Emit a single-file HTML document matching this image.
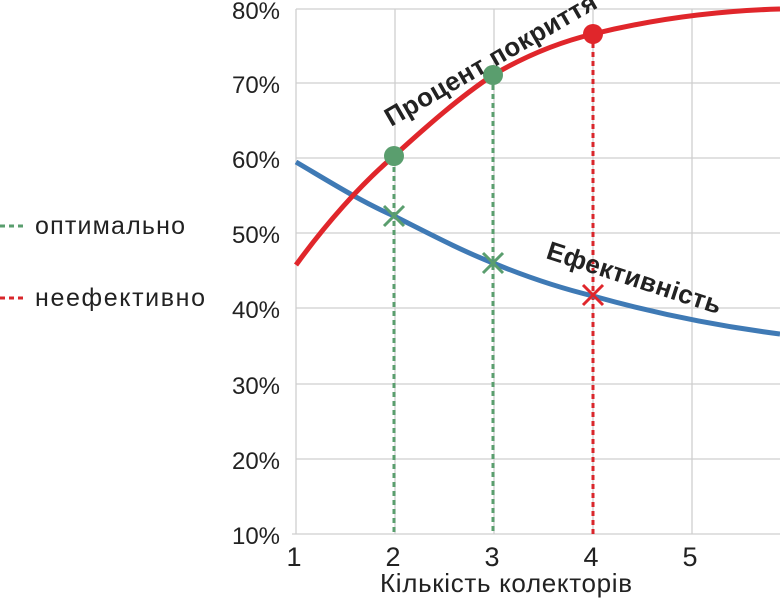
<!DOCTYPE html>
<html><head><meta charset="utf-8"><style>
body{margin:0;background:#fff;}
svg{display:block;font-family:"Liberation Sans",sans-serif;}
</style></head><body>
<svg width="780" height="600" viewBox="0 0 780 600">
<g stroke="#cfcfcf" stroke-width="1.3" fill="none">
<line x1="296" y1="9" x2="780" y2="9"/>
<line x1="296" y1="83" x2="780" y2="83"/>
<line x1="296" y1="158" x2="780" y2="158"/>
<line x1="296" y1="233" x2="780" y2="233"/>
<line x1="296" y1="308" x2="780" y2="308"/>
<line x1="296" y1="384" x2="780" y2="384"/>
<line x1="296" y1="459" x2="780" y2="459"/>
<line x1="292" y1="534" x2="780" y2="534"/>
<line x1="296" y1="9" x2="296" y2="534"/>
<line x1="395" y1="9" x2="395" y2="534"/>
<line x1="494" y1="9" x2="494" y2="534"/>
<line x1="593" y1="9" x2="593" y2="534"/>
<line x1="692" y1="9" x2="692" y2="534"/>
</g>
<g font-size="24" fill="#222">
<text x="232" y="19" textLength="48">80%</text><text x="232" y="93" textLength="48">70%</text><text x="232" y="168" textLength="48">60%</text>
<text x="232" y="243" textLength="48">50%</text><text x="232" y="318" textLength="48">40%</text><text x="232" y="394" textLength="48">30%</text>
<text x="232" y="469" textLength="48">20%</text><text x="232" y="544" textLength="48">10%</text>
</g>
<g font-size="27" fill="#222" text-anchor="middle">
<text x="294" y="566">1</text><text x="393" y="566">2</text><text x="492" y="566">3</text>
<text x="591" y="566">4</text><text x="690" y="566">5</text>
</g>
<text x="380" y="592" font-size="26" fill="#222" textLength="252">Кількість колекторів</text>
<g stroke-width="3" stroke-dasharray="5,4" fill="none">
<line x1="394" y1="158" x2="394" y2="534" stroke="#5a9e6e"/>
<line x1="493" y1="76" x2="493" y2="534" stroke="#5a9e6e"/>
<line x1="593" y1="34" x2="593" y2="534" stroke="#d9262b"/>
<line x1="0" y1="226" x2="26" y2="226" stroke="#5a9e6e"/>
<line x1="0" y1="298" x2="26" y2="298" stroke="#d9262b"/>
</g>
<g font-size="25" fill="#222">
<text x="35" y="234" textLength="150">оптимально</text>
<text x="35" y="306" textLength="170">неефективно</text>
</g>
<path d="M296,162 C330,182 360,201 394,216 C428,233 460,250 493,263 C527,277 560,288 593,296 C650,312 710,325 780,334" stroke="#3f7ab5" stroke-width="5" fill="none"/>
<path d="M296,265 C325,225 360,185 394,156 C428,125 460,97 493,75 C527,55 560,42 593,34 C650,20 710,11 780,9" stroke="#e0262b" stroke-width="5" fill="none"/>
<circle cx="394" cy="156" r="10" fill="#5a9e6e"/>
<circle cx="493" cy="75" r="10" fill="#5a9e6e"/>
<circle cx="593" cy="34" r="10" fill="#e0262b"/>
<g stroke-width="3">
<path d="M384,206 L404,226 M404,206 L384,226" stroke="#5a9e6e"/>
<path d="M483,253 L503,273 M503,253 L483,273" stroke="#5a9e6e"/>
<path d="M583,285 L603,305 M603,285 L583,305" stroke="#e0262b"/>
</g>
<text transform="translate(391,127) rotate(-30)" font-size="26" font-weight="bold" fill="#222" textLength="240">Процент покриття</text>
<text transform="translate(545,258) rotate(18)" font-size="26" font-weight="bold" fill="#222" textLength="182">Ефективність</text>
</svg>
</body></html>
